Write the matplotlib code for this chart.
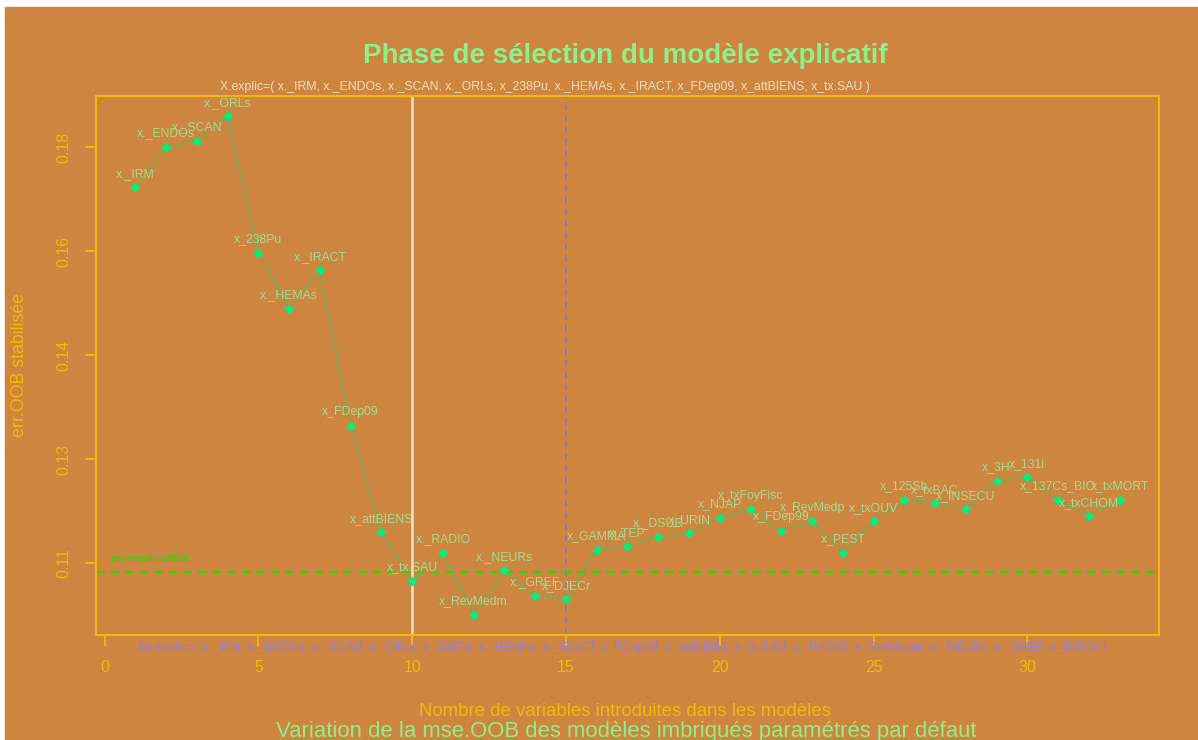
import matplotlib.pyplot as plt
from matplotlib.patches import Rectangle

# police proche de Arial (rendu R)
plt.rcParams['font.family'] = ['Liberation Sans', 'DejaVu Sans']

# donnees : err.OOB en fonction du nombre de variables introduites
n_vars = list(range(1, 34))
err_oob = [0.1731, 0.1801, 0.1811, 0.1854, 0.1618, 0.1521, 0.1587, 0.1318,
           0.1134, 0.1050, 0.1098, 0.0991, 0.1068, 0.1024, 0.1018, 0.1104,
           0.1110, 0.1126, 0.1132, 0.1159, 0.1174, 0.1137, 0.1153, 0.1098,
           0.1153, 0.1190, 0.1184, 0.1174, 0.1223, 0.1229, 0.1190, 0.1162,
           0.1190]
var_names = ['x._IRM', 'x._ENDOs', 'x._SCAN', 'x._ORLs', 'x_238Pu', 'x._HEMAs',
             'x._IRACT', 'x_FDep09', 'x_attBIENS', 'x_tx.SAU', 'x._RADIO',
             'x_RevMedm', 'x._NEURs', 'x._GREF', 'x_DJECr', 'x_GAMMA', 'x_TEP',
             'x._DSUR', 'x_URIN', 'x_NJAP', 'x_txFoyFisc', 'x_FDep99',
             'x_RevMedp', 'x_PEST', 'x_txOUV', 'x_125Sb', 'x_txBAC',
             'x_INSECU', 'x_3H', 'x_131i', 'x_137Cs_BIO', 'x_txCHOM',
             'x_txMORT']
seuil = 0.10645      # niveau psy.explic.utilise
n_explic = 10        # modele explicatif retenu
n_explic_o = 15      # modele Xo.explic

yticks = [0.18, 0.162, 0.144, 0.126, 0.108]
ytick_labels = ['0.18', '0.16', '0.14', '0.13', '0.11']
xticks = [0, 5, 10, 15, 20, 25, 30]

titre = 'Phase de sélection du modèle explicatif'
sous_titre = 'Variation de la mse.OOB des modèles imbriqués paramétrés par défaut'
txt_x = 'X.explic=( ' + ', '.join(var_names[:n_explic]) + ' )'
txt_xo = 'Xo.explic=( ' + ', '.join(var_names[:n_explic_o]) + ' )'

# couleurs
fond = '#cd853f'
or_ = '#f5b80a'
vert_clair = '#8ef08a'
vert_lab = '#a8dc8e'

W, H = 1198, 740
fig = plt.figure(figsize=(W / 100, H / 100), dpi=100, facecolor='white')
fig.add_artist(Rectangle((5 / W, 0), 1, 1 - 7 / H, transform=fig.transFigure,
                         color=fond, zorder=-10))


def fy(py):
    return 1 - py / H


ax = fig.add_axes([96 / W, fy(635), (1159 - 96) / W, (635 - 96) / H])
ax.patch.set_alpha(0)

# courbe + points
ax.plot(n_vars, err_oob, ':', color='#28d060', lw=1.5, zorder=3)
ax.plot(n_vars, err_oob, 'D', color='#00f07a', ms=5, mec='none', zorder=4)
for x, y, name in zip(n_vars, err_oob, var_names):
    ax.annotate(name, (x, y), xytext=(0, 9.7), textcoords='offset points',
                ha='center', va='center', fontsize=8.8, color=vert_lab, zorder=5)

# lignes de reference
ax.axhline(seuil, color='#22dd00', lw=1.5, dashes=(4, 3), zorder=2)
ax.annotate('psy.explic.utilisé', (0.17, seuil), xytext=(0, 9.4),
            textcoords='offset points', ha='left', va='center',
            fontsize=8, color='#3ccc10')
ax.axvline(n_explic, color='#f3e2cc', lw=1.8, zorder=1)
ax.axvline(n_explic_o, color='#8f72c2', lw=1.2, dashes=(4, 3), zorder=1)

ax.set_xlim(-0.28, 34.28)
ax.set_ylim(0.09562, 0.18888)
ax.set_xticks(xticks)
ax.set_yticks(yticks)
ax.set_yticklabels(ytick_labels, rotation=90, va='center')

for sp in ax.spines.values():
    sp.set_color(or_)
    sp.set_linewidth(1.5)
ax.tick_params(colors=or_, length=8, width=1.3, labelsize=11.5, pad=10)

# textes
fig.text(625 / W, fy(63), titre, ha='center', va='baseline', fontsize=20,
         fontweight='bold', color=vert_clair)
fig.text(545 / W, fy(87), txt_x, ha='center', va='center', fontsize=8.8,
         color='#f2dfbf')
fig.text(622 / W, fy(648), txt_xo, ha='center', va='center', fontsize=8.8,
         color='#9a7cd0')
fig.text(625 / W, fy(712), 'Nombre de variables introduites dans les modèles',
         ha='center', va='center', fontsize=13.4, color=or_)
fig.text(626 / W, fy(731), sous_titre, ha='center', va='center',
         fontsize=15.9, color=vert_clair)
fig.text(20 / W, fy(365), 'err.OOB stabilisée', ha='center', va='center',
         rotation=90, fontsize=12.8, color=or_)

fig.savefig('out.png', dpi=100)
